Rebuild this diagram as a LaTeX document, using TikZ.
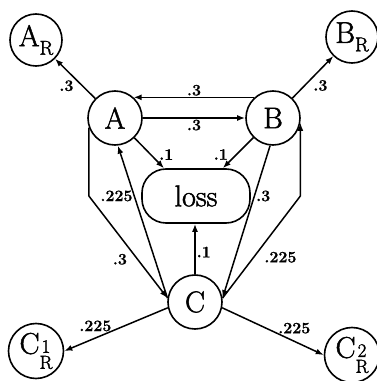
\documentclass[tikz,border=0pt]{standalone}
\usepackage{fontspec}
\usetikzlibrary{arrows.meta,calc}
\newfontfamily\heavyroman{Latin Modern Roman}[FakeBold=1.6]
\newfontfamily\labelroman{Latin Modern Roman}[FakeBold=0.8]
\newcommand{\statefont}{\heavyroman\fontsize{30}{32}\selectfont}
\newcommand{\probfont}{\labelroman\fontsize{16}{18}\selectfont\bfseries}
\begin{document}
\begin{tikzpicture}[x=1pt,y=1pt,
  state/.style={circle,draw,line width=1.6pt,minimum size=54pt,inner sep=0pt,
    font=\statefont},
  rstate/.style={state,minimum size=52pt},
  cstate/.style={state,minimum size=55pt},
  lossbox/.style={rectangle,rounded corners=24pt,draw,line width=1.6pt,
    minimum width=108pt,minimum height=54pt,inner sep=0pt,
    font=\statefont},
  flow/.style={line width=1.5pt,-{Latex[length=8pt,width=6pt]}},
  prob/.style={font=\probfont,inner sep=1pt}]
\useasboundingbox (0,0) rectangle (377,381);

% states
\node[state] (A) at (115,263) {A};
\node[state] (B) at (273,263) {B};
\node[state] (C) at (195,79) {C};
\node[lossbox] (loss) at (196,185) {loss};
\node[rstate] (AR) at (36,341) {A\raisebox{-0.28em}{\fontsize{20}{21}\selectfont R}};
\node[rstate] (BR) at (352,344) {B\raisebox{-0.28em}{\fontsize{20}{21}\selectfont R}};
\node[cstate] (CR1) at (36,30) {C\raisebox{-0.5em}{\fontsize{19}{17}\selectfont\shortstack{1\\R}}};
\node[cstate] (CR2) at (352,26) {C\raisebox{-0.5em}{\fontsize{19}{17}\selectfont\shortstack{2\\R}}};

% transitions out of A
\draw[flow] (A) -- node[prob,pos=0.5,below left] (lAAR) {.3} (AR);
\draw[flow] (A.east) -- node[prob,below] (lAB) {.3} (B.west);
\draw[flow] (A) -- node[prob,pos=0.78,above right] (lAL) {.1} (loss.139);
\draw[flow] (A.200) -- (A.200 |- loss.center)
  -- node[prob,pos=0.62,left=9pt] (lAC) {.3} (C.172);

% transitions out of B
\draw[flow] (B) -- node[prob,pos=0.47,below right] (lBBR) {.3} (BR);
\draw[flow] (B.132) -- node[prob,above] (lBA) {.3} (A.48);
\draw[flow] (B) -- node[prob,pos=0.78,above left] (lBL) {.1} (loss.46);
\draw[flow] (B.-96) -- node[prob,pos=0.33,right] (lBC) {.3} (C.8);

% transitions out of C
\draw[flow] (C.north) -- node[prob,pos=0.44,right] (lCL) {.1} (C.north |- loss.south);
\draw[flow] (C.172) -- node[prob,pos=0.67,left] (lCA) {.225} (A.-84);
\draw[flow] (C.8) -- node[prob,pos=0.4,right=9pt] (lCB) {.225} (B.-10 |- loss.center)
  -- (B.-10);
\draw[flow] (C.192) -- node[prob,pos=0.7,above=5pt] (lCR1) {.225} (CR1.east);
\draw[flow] (C.-12) -- node[prob,pos=0.71,above=6pt] (lCR2) {.225} (CR2.west);
\end{tikzpicture}
\end{document}
